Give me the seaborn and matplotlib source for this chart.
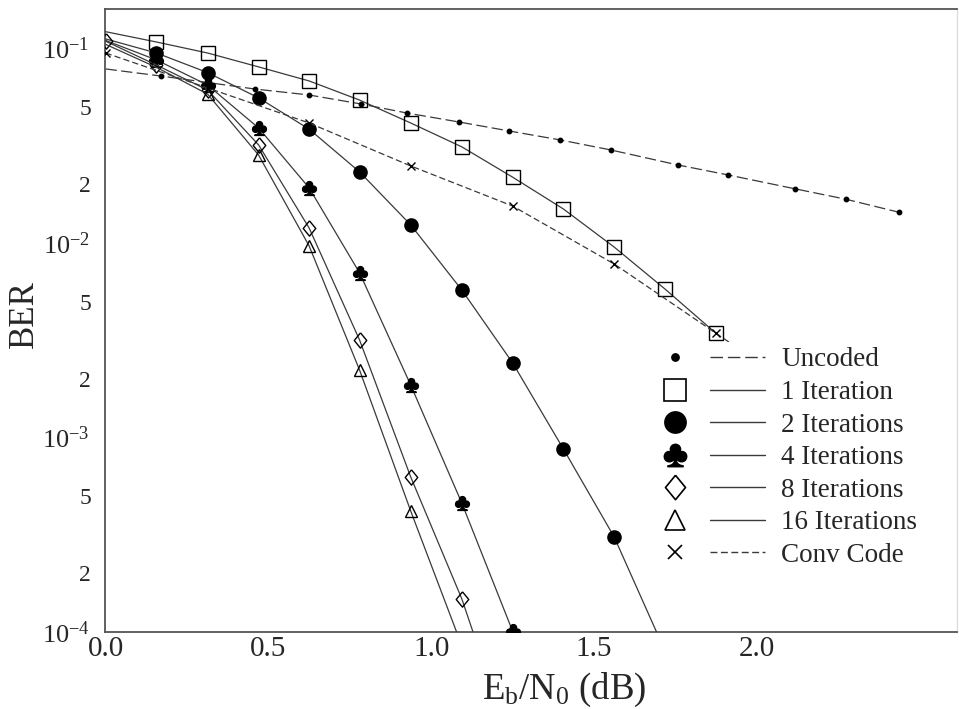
import numpy as np
import pandas as pd
import matplotlib
matplotlib.use("Agg")
import matplotlib.pyplot as plt
import matplotlib.ticker as mticker
from matplotlib.lines import Line2D
from matplotlib.legend_handler import HandlerTuple
import seaborn as sns

# === Data (Eb/N0 in dB -> BER) ===
snr_turbo = [0.0, 0.156, 0.313, 0.470, 0.625, 0.780, 0.937, 1.094, 1.250, 1.406, 1.562, 1.718, 1.874]

ber_it1 = [0.122, 0.108, 0.0948, 0.0804, 0.0681, 0.0543, 0.0414, 0.0312, 0.0218,
           0.01496, 0.00953, 0.0058, 0.00344]
ber_it2 = [0.112, 0.0948, 0.0752, 0.0557, 0.0385, 0.0232, 0.01239, 0.00573, 0.00242,
           0.000873, 0.000308, 0.00008]
ber_it4 = [0.110, 0.0873, 0.0649, 0.039, 0.0192, 0.00702, 0.00186, 0.00046, 0.000101]
ber_it8 = [0.109, 0.0822, 0.0612, 0.0319, 0.01194, 0.00317, 0.000627, 0.000148, 0.000025]
ber_it16 = [0.105, 0.080, 0.0583, 0.0283, 0.00966, 0.00222, 0.000419, 0.000085]

snr_conv = [0.0, 0.313, 0.625, 0.937, 1.250, 1.562, 1.874, 2.187]
ber_conv = [0.0948, 0.0627, 0.0414, 0.0249, 0.01549, 0.0078, 0.00344, 0.00152]

snr_uncoded = [0.0, 0.169, 0.458, 0.624, 0.783, 0.925, 1.085, 1.238, 1.395, 1.551,
               1.757, 1.911, 2.117, 2.273, 2.436]
ber_uncoded = [0.0785, 0.0722, 0.0619, 0.0577, 0.0519, 0.0466, 0.0419, 0.0377, 0.0339,
               0.0301, 0.0252, 0.0224, 0.0190, 0.0168, 0.0144]

labels = ["Uncoded", "1 Iteration", "2 Iterations", "4 Iterations",
          "8 Iterations", "16 Iterations", "Conv Code"]

# === Style ===
sns.set_style("white")
plt.rcParams["font.family"] = ["Liberation Serif", "DejaVu Serif"]
plt.rcParams["mathtext.fontset"] = "custom"
plt.rcParams["mathtext.rm"] = "Liberation Serif"
plt.rcParams["mathtext.it"] = "Liberation Serif:italic"
plt.rcParams["mathtext.bf"] = "Liberation Serif:bold"

line_col = "#3a3a3a"
diamond = [(0, 1), (0.82, 0), (0, -1), (-0.82, 0), (0, 1)]

# label, x, y, marker, markersize, facecolour, linestyle, markevery
series = [
    ("Uncoded", snr_uncoded, ber_uncoded, "o", 3.2, "black", (0, (9, 3.5)), slice(1, None)),
    ("1 Iteration", snr_turbo[:len(ber_it1)], ber_it1, "s", 9.5, "none", "-", slice(1, None)),
    ("2 Iterations", snr_turbo[:len(ber_it2)], ber_it2, "o", 9.5, "black", "-", slice(1, None)),
    ("4 Iterations", snr_turbo[:len(ber_it4)], ber_it4, r"$\clubsuit$", 10, "black", "-", slice(1, None)),
    ("8 Iterations", snr_turbo[:len(ber_it8)], ber_it8, diamond, 11, "none", "-", None),
    ("16 Iterations", snr_turbo[:len(ber_it16)], ber_it16, "^", 9, "none", "-", slice(2, None)),
    ("Conv Code", snr_conv, ber_conv, "x", 6, "black", (0, (5, 2.5)), None),
]

fig = plt.figure(figsize=(9.59, 7.09), dpi=100)
ax = fig.add_axes([105 / 959, 1 - 632 / 709, 852 / 959, 623 / 709])

for name, xs, ys, mk, ms, fc, ls, every in series:
    df = pd.DataFrame({"snr": xs, "ber": ys})
    sns.lineplot(data=df, x="snr", y="ber", ax=ax, color=line_col, lw=0.9,
                 linestyle=ls, marker=mk, markersize=ms, markerfacecolor=fc,
                 markeredgecolor="black", markeredgewidth=1.0,
                 markevery=every, legend=False, zorder=3)

ax.set_yscale("log")
ax.set_xlim(-0.002, 2.615)
ax.set_ylim(1e-4, 0.1596)

# axis ticks
ax.set_xticks([0.0, 0.5, 1.0, 1.5, 2.0])
ax.xaxis.set_major_formatter(mticker.FormatStrFormatter("%.1f"))
ax.yaxis.set_major_locator(mticker.LogLocator(base=10, numticks=10))
ax.yaxis.set_major_formatter(mticker.FuncFormatter(
    lambda v, p: r"$10^{%d}$" % int(round(np.log10(v)))))
ax.yaxis.set_minor_locator(mticker.LogLocator(base=10, subs=range(2, 10), numticks=20))


def minor_fmt(v, p):
    lead = int(round(v / 10 ** np.floor(np.log10(v) + 1e-9)))
    return str(lead) if lead in (2, 5) else ""


ax.yaxis.set_minor_formatter(mticker.FuncFormatter(minor_fmt))

ax.tick_params(axis="x", which="major", direction="in", length=3, width=1,
               labelsize=21, pad=3, color="#555555")
ax.tick_params(axis="y", which="major", direction="in", length=7, width=1,
               labelsize=19, pad=11, color="#555555")
ax.tick_params(axis="y", which="minor", direction="in", length=4.5, width=1,
               labelsize=17, pad=10, color="#555555")

for side in ["left", "bottom", "top"]:
    ax.spines[side].set_color("#555555")
    ax.spines[side].set_linewidth(1.3)
ax.spines["right"].set_color("#dddddd")
ax.spines["right"].set_linewidth(1.0)

# axis labels
ax.set_ylabel("BER", fontsize=25)
ax.yaxis.set_label_coords(-0.075, 0.51)
ax.set_xlabel(r"E$_\mathrm{b}$/N$_0$ (dB)", fontsize=26.5)
ax.xaxis.set_label_coords(0.539, -0.062)

# legend: marker, then a separate line segment, then the text
handles = []
for name, xs, ys, mk, ms, fc, ls, every in series:
    mk_h = Line2D([], [], ls="none", marker=mk, markersize=ms * 1.6,
                  markerfacecolor=fc, markeredgecolor="black", markeredgewidth=1.2)
    ln_h = Line2D([], [], color=line_col, lw=1.0, linestyle=ls)
    handles.append((mk_h, ln_h))

leg = ax.legend(handles, labels, handler_map={tuple: HandlerTuple(ndivide=None, pad=0.3)},
                loc="upper left", bbox_to_anchor=(642 / 959, 1 - 342 / 709),
                bbox_transform=fig.transFigure, borderaxespad=0, borderpad=0.2,
                fontsize=19.5, handlelength=4.35, handletextpad=0.6,
                labelspacing=0.28, frameon=True, framealpha=1.0,
                facecolor="white", edgecolor="none", fancybox=False)
leg.set_zorder(5)

fig.savefig("out.png", dpi=100)
